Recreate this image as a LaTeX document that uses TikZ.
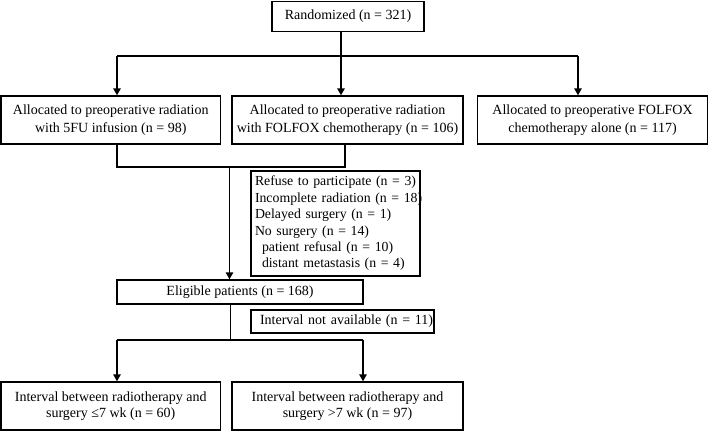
\documentclass[tikz,border=0pt]{standalone}
\usepackage{fontspec}
\setmainfont{Liberation Serif}
\usetikzlibrary{arrows.meta}
\tikzset{
  box/.style={draw, line width=1.4pt, inner sep=0pt, align=center, font=\fontsize{14}{18}\selectfont},
  ln/.style={line width=1.4pt},
  arr/.style={line width=1.4pt, -{Triangle[length=7pt,width=7.5pt]}},
}
\newcommand{\exl}[2]{\mbox{\hspace*{#1}#2}}
\begin{document}
\begin{tikzpicture}[x=1pt,y=-1pt]
\useasboundingbox (0,0) rectangle (709,431);
\node[box, minimum width=152pt, minimum height=30pt] (rand) at (348,16.5) {Randomized (n = 321)};
\node[box, minimum width=219.5pt, minimum height=48pt] (a1) at (110.75,120) {Allocated to preoperative radiation\\with 5FU infusion (n = 98)};
\node[box, minimum width=231pt, minimum height=48pt] (a2) at (347.5,120) {Allocated to preoperative radiation\\with FOLFOX chemotherapy (n = 106)};
\node[box, minimum width=230.5pt, minimum height=48pt] (a3) at (592.5,120) {Allocated to preoperative FOLFOX\\chemotherapy alone (n = 117)};
\node[box, minimum width=169pt, minimum height=105pt, text width=169pt, align=left, font=\fontsize{13.8}{16.4}\selectfont] (excl) at (335.5,223.5)
  {\exl{4pt}{Refuse to participate (n = 3)}\\\exl{4pt}{Incomplete radiation (n = 18)}\\\exl{4pt}{Delayed surgery (n = 1)}\\\exl{4pt}{No surgery (n = 14)}\\\exl{11pt}{patient refusal (n = 10)}\\\exl{11pt}{distant metastasis (n = 4)}};
\node[box, minimum width=246pt, minimum height=24pt] (elig) at (240,292) {Eligible patients (n = 168)};
\node[box, minimum width=183pt, minimum height=23pt, text width=181pt, align=right] (na) at (342.5,321.5) {Interval not available (n = 11)};
\node[box, minimum width=219.5pt, minimum height=48pt, font=\fontsize{14}{16.5}\selectfont] (b1) at (110.75,406) {Interval between radiotherapy and\\surgery ≤7 wk (n = 60)};
\node[box, minimum width=231pt, minimum height=48pt, font=\fontsize{14}{16.5}\selectfont] (b2) at (347.5,406) {Interval between radiotherapy and\\surgery >7 wk (n = 97)};
% randomization split
\coordinate (j1) at (341,56);
\coordinate (l1) at (117,56);
\coordinate (l3) at (578,56);
\draw[ln] (rand.south -| j1) -- (j1);
\draw[ln] (l1) -- (l3);
\draw[arr] (l1) -- (l1 |- a1.north);
\draw[arr] (j1) -- (j1 |- a2.north);
\draw[arr] (l3) -- (l3 |- a3.north);
% merge
\coordinate (m1) at (117,167);
\coordinate (m2) at (345,167);
\coordinate (m3) at (229.5,167);
\draw[ln] (m1 |- a1.south) -- (m1) -- (m2) -- (m2 |- a2.south);
\draw[arr] (m3) -- (m3 |- elig.north);
% split
\coordinate (s0) at (230.5,340);
\coordinate (s1) at (117,340);
\coordinate (s2) at (363,340);
\draw[ln] (s0 |- elig.south) -- (s0);
\draw[ln] (s1) -- (s2);
\draw[arr] (s1) -- (s1 |- b1.north);
\draw[arr] (s2) -- (s2 |- b2.north);
\end{tikzpicture}
\end{document}
